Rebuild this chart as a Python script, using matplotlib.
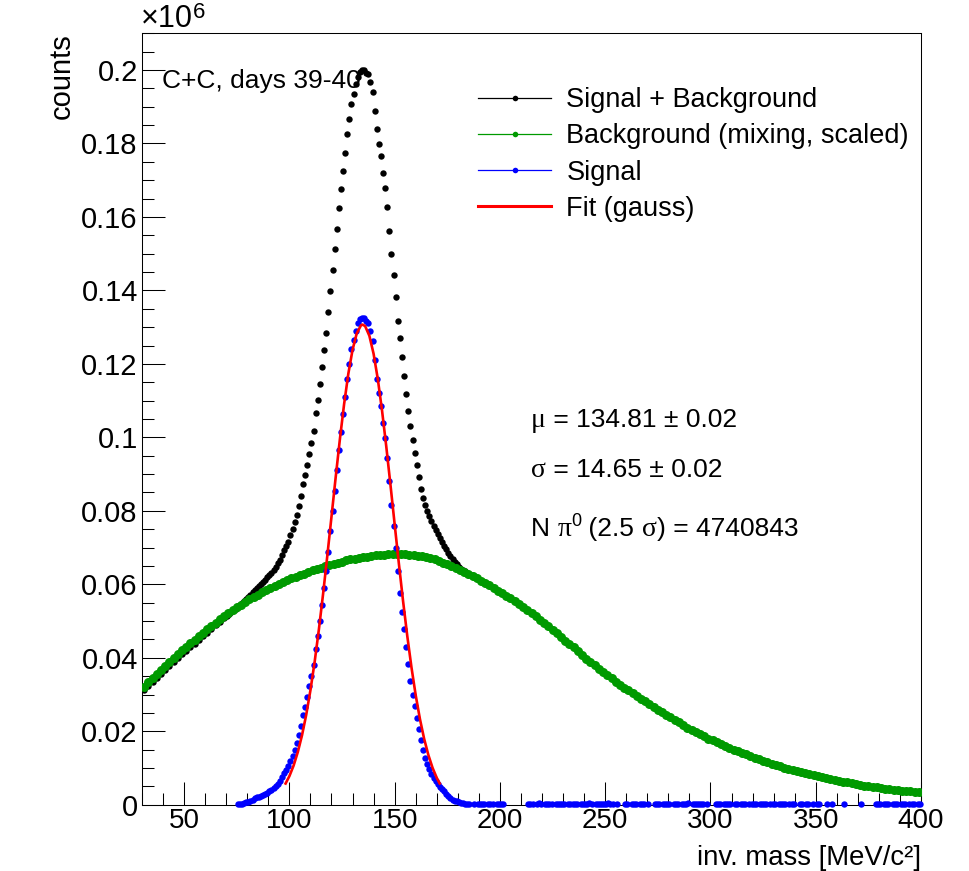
import numpy as np
import matplotlib
matplotlib.use('Agg')
import matplotlib.pyplot as plt
from matplotlib.lines import Line2D
from matplotlib.ticker import MultipleLocator, FuncFormatter

plt.rcParams['font.family'] = ['Liberation Sans', 'DejaVu Sans']

# counts are in units of 10^6, inv. mass in MeV/c^2
# background (mixing, scaled), 2 MeV steps from 31 to 399
mass_bkg = np.arange(31, 400, 2)
bkg = [
    0.0321, 0.0333, 0.0345, 0.0356, 0.0368, 0.0378, 0.0389, 0.0399, 0.0410, 0.0420,
    0.0430, 0.0439, 0.0449, 0.0459, 0.0468, 0.0478, 0.0487, 0.0496, 0.0505, 0.0514,
    0.0522, 0.0530, 0.0537, 0.0545, 0.0552, 0.0559, 0.0566, 0.0572, 0.0579, 0.0585,
    0.0591, 0.0596, 0.0601, 0.0606, 0.0611, 0.0616, 0.0621, 0.0625, 0.0629, 0.0634,
    0.0638, 0.0642, 0.0645, 0.0649, 0.0653, 0.0656, 0.0659, 0.0662, 0.0665, 0.0668,
    0.0670, 0.0672, 0.0674, 0.0675, 0.0677, 0.0679, 0.0680, 0.0681, 0.0682, 0.0683,
    0.0683, 0.0683, 0.0682, 0.0681, 0.0680, 0.0678, 0.0676, 0.0673, 0.0671, 0.0668,
    0.0664, 0.0659, 0.0655, 0.0650, 0.0645, 0.0640, 0.0634, 0.0628, 0.0622, 0.0616,
    0.0610, 0.0603, 0.0597, 0.0590, 0.0583, 0.0576, 0.0569, 0.0562, 0.0554, 0.0547,
    0.0539, 0.0530, 0.0522, 0.0513, 0.0504, 0.0495, 0.0486, 0.0476, 0.0467, 0.0457,
    0.0447, 0.0437, 0.0428, 0.0418, 0.0408, 0.0398, 0.0389, 0.0379, 0.0370, 0.0361,
    0.0352, 0.0344, 0.0335, 0.0327, 0.0319, 0.0311, 0.0303, 0.0296, 0.0288, 0.0281,
    0.0273, 0.0266, 0.0259, 0.0252, 0.0245, 0.0238, 0.0231, 0.0224, 0.0217, 0.0210,
    0.0204, 0.0198, 0.0192, 0.0186, 0.0180, 0.0175, 0.0170, 0.0165, 0.0160, 0.0155,
    0.0150, 0.0145, 0.0141, 0.0137, 0.0132, 0.0128, 0.0124, 0.0120, 0.0116, 0.0111,
    0.0108, 0.0104, 0.0101, 0.0098, 0.0095, 0.0092, 0.0089, 0.0086, 0.0083, 0.0080,
    0.0078, 0.0075, 0.0073, 0.0070, 0.0067, 0.0065, 0.0063, 0.0061, 0.0058, 0.0056,
    0.0054, 0.0052, 0.0050, 0.0049, 0.0047, 0.0045, 0.0044, 0.0043, 0.0041, 0.0040,
    0.0038, 0.0037, 0.0036, 0.0035, 0.0034,
]

# signal + background: 2 MeV steps below 70 and above 190, 1 MeV bins in the peak
mass_sb = np.concatenate([np.arange(31, 70, 2), np.arange(70.5, 190, 1.0), np.arange(191, 400, 2)])
sig_bkg = [
    0.0311, 0.0322, 0.0334, 0.0345, 0.0357, 0.0367, 0.0378, 0.0388, 0.0399, 0.0409,
    0.0419, 0.0428, 0.0438, 0.0448, 0.0458, 0.0468, 0.0478, 0.0488, 0.0498, 0.0508,
    # 70.5 .. 189.5
    0.0515, 0.0520, 0.0525, 0.0530, 0.0534, 0.0540, 0.0545, 0.0550, 0.0554, 0.0559,
    0.0565, 0.0571, 0.0578, 0.0585, 0.0591, 0.0596, 0.0601, 0.0606, 0.0612, 0.0619,
    0.0626, 0.0632, 0.0640, 0.0647, 0.0657, 0.0667, 0.0680, 0.0693, 0.0705, 0.0716,
    0.0733, 0.0750, 0.0769, 0.0788, 0.0813, 0.0841, 0.0872, 0.0897, 0.0924, 0.0956,
    0.0986, 0.1018, 0.1065, 0.1102, 0.1144, 0.1191, 0.1238, 0.1285, 0.1341, 0.1398,
    0.1455, 0.1512, 0.1568, 0.1625, 0.1676, 0.1726, 0.1774, 0.1826, 0.1867, 0.1908,
    0.1935, 0.1961, 0.1982, 0.1995, 0.2000, 0.1999, 0.1993, 0.1988, 0.1967, 0.1939,
    0.1888, 0.1839, 0.1800, 0.1765, 0.1721, 0.1679, 0.1627, 0.1562, 0.1498, 0.1443,
    0.1383, 0.1318, 0.1270, 0.1218, 0.1168, 0.1118, 0.1072, 0.1030, 0.0992, 0.0958,
    0.0925, 0.0892, 0.0860, 0.0836, 0.0815, 0.0800, 0.0786, 0.0772, 0.0760, 0.0748,
    0.0737, 0.0726, 0.0716, 0.0705, 0.0695, 0.0686, 0.0677, 0.0668, 0.0660, 0.0654,
    0.0648, 0.0643, 0.0639, 0.0635, 0.0632, 0.0628, 0.0624, 0.0621, 0.0618, 0.0615,
    # 191 .. 399
    0.0610, 0.0603, 0.0597, 0.0590, 0.0583, 0.0576, 0.0569, 0.0562, 0.0554, 0.0547,
    0.0539, 0.0530, 0.0522, 0.0513, 0.0504, 0.0495, 0.0486, 0.0476, 0.0467, 0.0457,
    0.0447, 0.0437, 0.0428, 0.0418, 0.0408, 0.0398, 0.0389, 0.0379, 0.0370, 0.0361,
    0.0352, 0.0344, 0.0335, 0.0327, 0.0319, 0.0311, 0.0303, 0.0296, 0.0288, 0.0281,
    0.0273, 0.0266, 0.0259, 0.0252, 0.0245, 0.0238, 0.0231, 0.0224, 0.0217, 0.0210,
    0.0204, 0.0198, 0.0192, 0.0186, 0.0180, 0.0175, 0.0170, 0.0165, 0.0160, 0.0155,
    0.0150, 0.0145, 0.0141, 0.0137, 0.0132, 0.0128, 0.0124, 0.0120, 0.0116, 0.0111,
    0.0108, 0.0104, 0.0101, 0.0098, 0.0095, 0.0092, 0.0089, 0.0086, 0.0083, 0.0080,
    0.0078, 0.0075, 0.0073, 0.0070, 0.0067, 0.0065, 0.0063, 0.0061, 0.0058, 0.0056,
    0.0054, 0.0052, 0.0050, 0.0049, 0.0047, 0.0045, 0.0044, 0.0043, 0.0041, 0.0040,
    0.0038, 0.0037, 0.0036, 0.0035, 0.0034,
]

# signal (S+B minus background), 1 MeV bins 75.5 .. 185.5
mass_sig = np.arange(75.5, 186, 1.0)
sig = [
    0.0001, 0.0002, 0.0003, 0.0004, 0.0006,
    0.0008, 0.0011, 0.0014, 0.0018, 0.0020, 0.0022, 0.0024, 0.0026, 0.0029, 0.0033,
    0.0037, 0.0040, 0.0045, 0.0050, 0.0057, 0.0065, 0.0075, 0.0086, 0.0095, 0.0104,
    0.0118, 0.0133, 0.0150, 0.0167, 0.0190, 0.0215, 0.0244, 0.0267, 0.0292, 0.0322,
    0.0350, 0.0380, 0.0425, 0.0460, 0.0500, 0.0545, 0.0590, 0.0635, 0.0689, 0.0745,
    0.0800, 0.0855, 0.0910, 0.0965, 0.1015, 0.1063, 0.1110, 0.1160, 0.1200, 0.1240,
    0.1265, 0.1290, 0.1310, 0.1322, 0.1326, 0.1325, 0.1318, 0.1312, 0.1290, 0.1262,
    0.1210, 0.1160, 0.1120, 0.1085, 0.1040, 0.0998, 0.0945, 0.0880, 0.0815, 0.0760,
    0.0700, 0.0635, 0.0575, 0.0525, 0.0478, 0.0430, 0.0382, 0.0338, 0.0300, 0.0270,
    0.0237, 0.0207, 0.0175, 0.0148, 0.0128, 0.0112, 0.0097, 0.0084, 0.0073, 0.0064,
    0.0056, 0.0049, 0.0043, 0.0036, 0.0029, 0.0023, 0.0018, 0.0014, 0.0011, 0.0009,
    0.0007, 0.0005, 0.0004, 0.0003, 0.0002, 0.0001,
]

# signal bins above the peak that stay positive (near zero); values in units of 1e-4
mass_sig_tail = [
    187.5, 189.5, 190.5, 191.5, 192.5, 194.5, 195.5, 196.5, 198.5, 199.5, 200.5, 201.5,
    213.5, 214.5, 215.5, 217.5, 218.5, 219.5, 221.5, 222.5, 223.5, 224.5, 226.5,
    227.5, 228.5, 229.5, 230.5, 232.5, 233.5, 234.5, 235.5, 236.5, 238.5, 239.5,
    240.5, 241.5, 242.5, 243.5, 245.5, 246.5, 247.5, 248.5, 249.5, 250.5, 251.5,
    252.5, 253.5, 255.5,
    259.5, 260.5, 262.5, 263.5, 264.5, 266.5, 267.5, 268.5, 270.5,
    273.5, 274.5, 275.5, 277.5, 278.5, 279.5, 280.5, 282.5, 283.5, 284.5, 286.5,
    287.5, 288.5, 289.5, 291.5, 292.5, 293.5, 294.5, 295.5, 296.5, 298.5,
    302.5, 303.5, 304.5, 306.5, 307.5, 308.5, 309.5, 311.5, 312.5, 314.5, 315.5,
    316.5, 318.5, 319.5, 320.5, 321.5, 323.5, 324.5, 325.5, 326.5, 328.5, 329.5,
    330.5, 332.5, 333.5, 334.5, 335.5, 337.5, 338.5, 339.5,
    342.5, 343.5, 345.5, 346.5, 348.5, 350.5, 351.5, 355.5, 357.5,
    363.5, 371.5,
    378.5, 379.5, 380.5, 382.5, 383.5, 384.5, 386.5, 387.5, 388.5, 390.5, 391.5,
    392.5, 394.5, 395.5, 396.5, 398.5, 399.5,
]
sig_tail_e4 = [
    1, 2, 1, 2, 1, 3, 2, 1, 2, 1, 3, 1,
    2, 3, 1, 2, 4, 2, 1, 3, 2, 1, 2,
    3, 1, 2, 2, 1, 3, 2, 1, 2, 3, 1,
    2, 2, 4, 1, 2, 3, 2, 1, 3, 2, 4,
    2, 1, 2,
    1, 2, 3, 1, 2, 2, 1, 3, 2,
    1, 2, 3, 1, 2, 2, 1, 3, 2, 1, 2,
    3, 2, 4, 1, 2, 2, 3, 1, 2, 1,
    2, 1, 2, 3, 1, 2, 2, 1, 3, 2, 1,
    2, 2, 3, 1, 2, 2, 1, 3, 2, 1, 2,
    2, 1, 2, 3, 1, 2, 1, 2,
    1, 2, 1, 2, 1, 2, 1, 2, 1,
    2, 1,
    2, 1, 2, 1, 2, 1, 2, 1, 2, 1, 2,
    1, 2, 1, 2, 1, 2,
]

# gauss fit (mu = 134.81, sigma = 14.65) over 2.5 sigma
mass_fit = [98.2, 100, 102, 104, 106, 108, 110, 112, 114, 116, 118, 120, 122, 124,
            126, 128, 130, 132, 134, 134.81, 136, 138, 140, 142, 144, 146, 148, 150,
            152, 154, 156, 158, 160, 162, 164, 166, 168, 170, 171.4]
fit = [0.00576, 0.00777, 0.01064, 0.01432, 0.01890, 0.02449, 0.03115, 0.03889,
       0.04765, 0.05732, 0.06767, 0.07841, 0.08918, 0.09955, 0.10908, 0.11732,
       0.12384, 0.12832, 0.13050, 0.13070, 0.13027, 0.12764, 0.12275, 0.11587,
       0.10735, 0.09763, 0.08715, 0.07635, 0.06566, 0.05542, 0.04592, 0.03734,
       0.02980, 0.02335, 0.01795, 0.01355, 0.01004, 0.00730, 0.00578]

labels = ['Signal + Background', 'Background (mixing, scaled)', 'Signal', 'Fit (gauss)']
green = '#009a00'

W, H = 970, 871
fig = plt.figure(figsize=(W / 100, H / 100), dpi=100)
ax = fig.add_axes([142 / W, 1 - 804.7 / H, 779 / W, 771.4 / H])

ax.plot(mass_sb, sig_bkg, 'o', color='black', ms=4.6, mew=0, zorder=3)
ax.plot(mass_bkg, bkg, 'o', color=green, ms=6.5, mew=0, zorder=4)
ax.plot(mass_sig, sig, 'o', color='blue', ms=4.6, mew=0, zorder=5, clip_on=False)
ax.plot(mass_sig_tail, np.array(sig_tail_e4) * 1e-4, 'o', color='blue', ms=4.6, mew=0,
        zorder=5, clip_on=False)
ax.plot(mass_fit, fit, '-', color='red', lw=1.9, zorder=6)

ax.set_xlim(30, 400)
ax.set_ylim(0, 0.21)
ax.xaxis.set_major_locator(MultipleLocator(50))
ax.xaxis.set_minor_locator(MultipleLocator(10))
ax.yaxis.set_major_locator(MultipleLocator(0.02))
ax.yaxis.set_minor_locator(MultipleLocator(0.005))
ax.yaxis.set_major_formatter(FuncFormatter(lambda v, p: ('%.2f' % v).rstrip('0').rstrip('.')))
ax.tick_params(which='both', direction='in', top=False, right=False, width=0.75)
ax.tick_params(which='major', length=16.5)
ax.tick_params(which='minor', length=8.5)
ax.tick_params(axis='x', pad=2.5, labelsize=20)
ax.tick_params(axis='y', pad=3, labelsize=21)
for s in ax.spines.values():
    s.set_linewidth(0.75)

ax.set_xlabel('inv. mass [MeV/c\u00b2]', loc='right', fontsize=19.8)
ax.xaxis.set_label_coords(1.0, (804.7 - 864.5) / 771.4)
ax.xaxis.label.set_va('baseline')
ax.set_ylabel('counts', loc='top', fontsize=21)
ax.yaxis.set_label_coords((62 - 142) / 779, 1.0)
ax.yaxis.label.set_va('center')

ax.text((162 - 142) / 779, (804.7 - 88) / 771.4, 'C+C, days 39-40', transform=ax.transAxes,
        fontsize=19, va='baseline', zorder=1)

handles = [
    Line2D([], [], color='black', lw=0.9, marker='o', ms=4, mew=0),
    Line2D([], [], color=green, lw=0.9, marker='o', ms=4, mew=0),
    Line2D([], [], color='blue', lw=0.9, marker='o', ms=4, mew=0),
    Line2D([], [], color='red', lw=2.2),
]
fig.legend(handles, labels, loc='upper left', bbox_to_anchor=(478 / W, 1 - 87 / H),
           frameon=False, fontsize=19.5, handlelength=2.7, handletextpad=0.56,
           labelspacing=0.38, borderpad=0, borderaxespad=0)

renderer = fig.canvas.get_renderer()


def text_run(x_px, base_px, parts):
    # place pieces of text one after another on a common baseline
    x = x_px
    for s, fam, size, rise in parts:
        t = fig.text(x / W, 1 - (base_px - rise) / H, s, fontfamily=fam, fontsize=size,
                     va='baseline', ha='left')
        x = t.get_window_extent(renderer).x1


sans = ['Liberation Sans', 'DejaVu Sans']
serif = ['Liberation Serif', 'DejaVu Serif']
text_run(141, 27, [('\u00d710', sans, 22, 0), ('6', sans, 16, 9)])
text_run(531, 427, [('\u03bc', serif, 20, 0), (' = 134.81 \u00b1 0.02', sans, 19, 0)])
text_run(531, 477, [('\u03c3', serif, 20, 0), (' = 14.65 \u00b1 0.02', sans, 19, 0)])
text_run(531, 536, [('N ', sans, 19, 0), ('\u03c0', serif, 20, 0), ('0', sans, 13, 10),
                    (' (2.5 ', sans, 19, 0), ('\u03c3', serif, 20, 0),
                    (') = 4740843', sans, 19, 0)])

fig.savefig('out.png', dpi=100, facecolor='white')
